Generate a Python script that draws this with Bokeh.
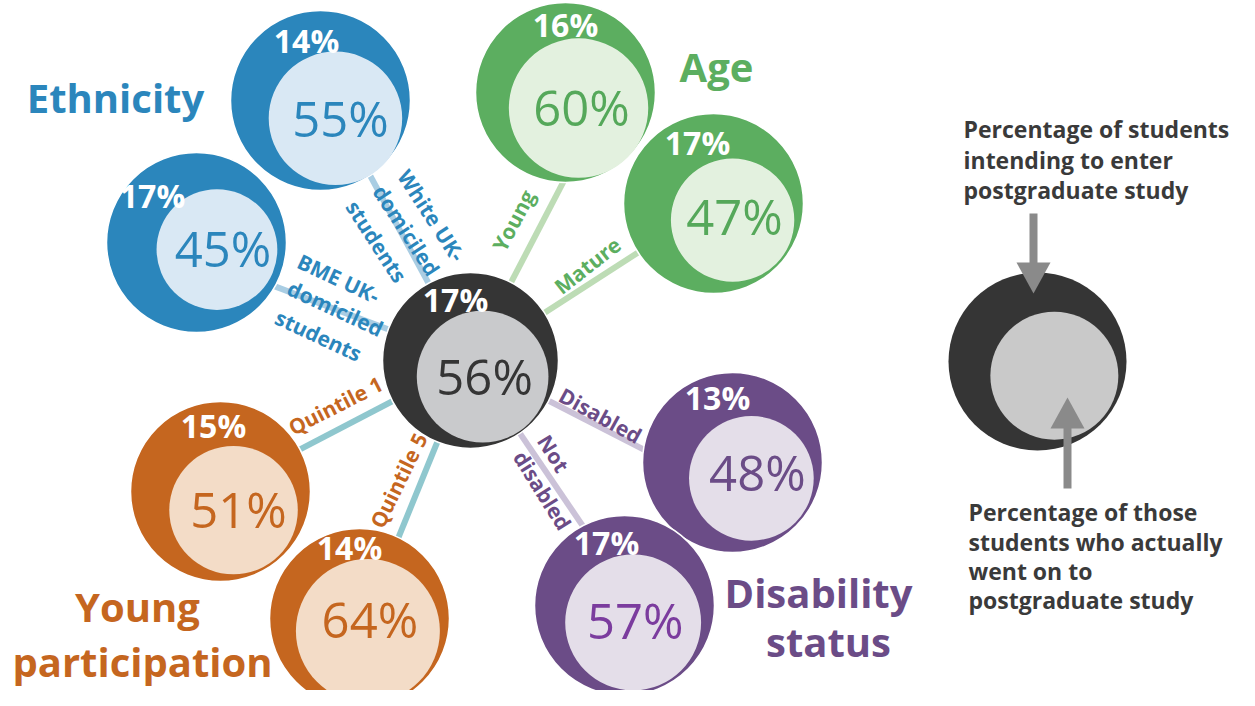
import math
from bokeh.plotting import figure
from bokeh.models import Range1d
from bokeh.core.properties import value
from bokeh.embed import file_html
from bokeh.resources import INLINE

# ---------------- data ----------------
subgroups = ["All students", "White UK-domiciled students", "BME UK-domiciled students",
             "Young", "Mature", "Quintile 1", "Quintile 5", "Disabled", "Not disabled"]
groups = ["All", "Ethnicity", "Ethnicity", "Age", "Age",
          "Young participation", "Young participation", "Disability status", "Disability status"]
intending_pct = [17, 14, 17, 16, 17, 15, 14, 13, 17]
went_on_pct = [56, 55, 45, 60, 47, 51, 64, 48, 57]
link_labels = [[], ["White UK-", "domiciled", "students"], ["BME UK-", "domiciled", "students"],
               ["Young"], ["Mature"], ["Quintile 1"], ["Quintile 5"], ["Disabled"], ["Not", "disabled"]]
group_names = ["Ethnicity", "Age", "Young participation", "Disability status"]
group_title_lines = [["Ethnicity"], ["Age"], ["Young", "participation"], ["Disability", "status"]]
legend_top = ["Percentage of students", "intending to enter", "postgraduate study"]
legend_bottom = ["Percentage of those", "students who actually", "went on to", "postgraduate study"]

# ---------------- styles ----------------
FONT = value("Open Sans")
palette = {  # dark ring, light inner, inner text, link line
    "All": ("#353535", "#c9cacc", "#353535", "#c9cacc"),
    "Ethnicity": ("#2b86bc", "#d9e8f4", "#2b86bc", "#a9cde3"),
    "Age": ("#5cae60", "#e3f1df", "#55a85a", "#bddcb5"),
    "Young participation": ("#c5661f", "#f3dcc7", "#c5661f", "#8fc7ce"),
    "Disability status": ("#6b4c87", "#e4dee9", "#6b4c87", "#cbc2d8"),
}
inner_text_override = {8: "#7b3c9e"}

# ---------------- layout (reference pixel space, y downwards) ----------------
REF_H = 706
FIG_W, FIG_H = 1239, 690


def Y(v):
    return REF_H - v


cx = [470, 320, 196, 565, 713, 220, 359, 732, 624]
cy = [360, 100, 242, 92, 203, 491, 618, 462, 605]
R = [88, 90, 90, 90, 90, 90, 90, 90, 90]
inner_ang = [53, 50, 19, 50, 41, 55, 56, 40, 63]
inner_gap = [2, 0, 8, 0, 3, 3, 3, 3, 3]
# visual centres of the "intending" labels, relative to the outer circle centre
out_lbl_dx = [-15, -14, -44, 0, -16, -7, -10, -15, -18]
out_lbl_dy = [-60, -59, -46, -67, -60, -65, -70, -64, -62]
# visual centres of the "went on" labels, relative to the inner circle centre
in_lbl_dx = [2, 5, 6, 3, 2, 5, 2, 6, 2]
in_lbl_dy = [1, 1, 0, 0, -3, 0, -10, -5, -1]
draw_order = [2, 1, 3, 4, 5, 6, 7, 8, 0]

link_end_x = [None, 375, 280, 562, 636, 303, 400, 645, 582]
link_end_y = [None, 185, 288, 183, 253, 447, 532, 450, 525]
link_lbl_pos = [[], [(431, 215), (406, 230), (376, 241)], [(338, 278), (335, 308), (318, 335)],
                [(513, 220)], [(587, 265)], [(335, 405)], [(398, 480)], [(600, 415)],
                [(553, 453), (542, 490)]]
link_lbl_ang = [0, -57, -25, 62, 38, 27, 64, -29, -58]

# title baselines
title_pos = [[(115, 113)], [(716, 82)], [(137, 622), (142, 677)], [(818, 608), (828, 657)]]

OUT_FS, IN_FS, LINK_FS, TITLE_FS, LEG_FS = 32, 49, 21, 40, 23
MID = 0.388  # central baseline above alphabetic baseline (em)
CAP = 0.357  # cap-height centre above alphabetic baseline (em)

p = figure(width=FIG_W, height=FIG_H,
           x_range=Range1d(0, FIG_W), y_range=Range1d(REF_H - FIG_H, REF_H),
           output_backend="svg", toolbar_location=None, min_border=0,
           x_axis_type=None, y_axis_type=None)
p.grid.visible = False
p.outline_line_color = None
p.background_fill_color = "white"
p.border_fill_color = "white"

# ---- link lines ----
for i in range(1, len(subgroups)):
    dx, dy = link_end_x[i] - cx[0], link_end_y[i] - cy[0]
    L = math.hypot(dx, dy)
    ex, ey = link_end_x[i] + dx / L * 25, link_end_y[i] + dy / L * 25
    p.line([cx[0], ex], [Y(cy[0]), Y(ey)], line_width=6, line_color=palette[groups[i]][3])

# ---- link labels ----
for i in range(1, len(subgroups)):
    col = palette[groups[i]][0]
    xs = [q[0] for q in link_lbl_pos[i]]
    ys = [Y(q[1]) for q in link_lbl_pos[i]]
    p.text(x=xs, y=ys, text=link_labels[i], angle=link_lbl_ang[i], angle_units="deg",
           text_font=FONT, text_font_style="bold", text_font_size=f"{LINK_FS}px",
           text_color=col, text_align="center", text_baseline="middle")

# ---- circles ----
for i in draw_order:
    dark, light, itxt, _ = palette[groups[i]]
    r_in = R[i] * math.sqrt(went_on_pct[i] / 100.0)
    d = R[i] - r_in - inner_gap[i]
    a = math.radians(inner_ang[i])
    ix, iy = cx[i] + d * math.cos(a), cy[i] + d * math.sin(a)
    p.circle(x=[cx[i]], y=[Y(cy[i])], radius=R[i], fill_color=dark, line_color="white", line_width=1.5)
    p.circle(x=[ix], y=[Y(iy)], radius=r_in, fill_color=light, line_color=None)
    p.text(x=[cx[i] + out_lbl_dx[i]], y=[Y(cy[i] + out_lbl_dy[i] - (MID - CAP) * OUT_FS)],
           text=[f"{intending_pct[i]}%"], text_font=FONT, text_font_style="bold",
           text_font_size=f"{OUT_FS}px",
           text_color="white", text_align="center", text_baseline="middle")
    p.text(x=[ix + in_lbl_dx[i]], y=[Y(iy + in_lbl_dy[i] - (MID - CAP) * IN_FS)],
           text=[f"{went_on_pct[i]}%"], text_font=FONT,
           text_font_size=f"{IN_FS}px",
           text_color=inner_text_override.get(i, itxt), text_align="center", text_baseline="middle")

# ---- group titles ----
for g, lines, pos in zip(group_names, group_title_lines, title_pos):
    p.text(x=[q[0] for q in pos], y=[Y(q[1] - MID * TITLE_FS) for q in pos], text=lines,
           text_font=FONT, text_font_style="bold", text_font_size=f"{TITLE_FS}px",
           text_color=palette[g][0], text_align="center", text_baseline="middle")

# ---- legend ----
LEG_CX, LEG_CY, LEG_R, LEG_r, LEG_ANG = 1037, 361, 89, 64, 40
LEG_DARK, LEG_LIGHT, ARROW_COL = "#353535", "#c9c9c9", "#8a8a8a"
p.circle(x=[LEG_CX], y=[Y(LEG_CY)], radius=LEG_R, fill_color=LEG_DARK, line_color=None)
ld = LEG_R - LEG_r - 3
lix = LEG_CX + ld * math.cos(math.radians(LEG_ANG))
liy = LEG_CY + ld * math.sin(math.radians(LEG_ANG))
p.circle(x=[lix], y=[Y(liy)], radius=LEG_r, fill_color=LEG_LIGHT, line_color=None)

# down arrow (to outer ring) and up arrow (to inner circle)
arrows = [(1033, 213, 293), (1067, 488, 397)]  # x, tail y, tip y
HEAD_L, HEAD_W = 31, 34
for ax, ty, tip in arrows:
    sgn = 1 if tip > ty else -1
    base = tip - sgn * HEAD_L
    p.line([ax, ax], [Y(ty), Y(base + sgn * 2)], line_width=8, line_color=ARROW_COL)
    p.patch([ax - HEAD_W / 2, ax + HEAD_W / 2, ax], [Y(base), Y(base), Y(tip)],
            fill_color=ARROW_COL, line_color=None)

p.text(x=[963] * 3, y=[Y(v) for v in (128, 159, 189)], text=legend_top,
       text_font=FONT, text_font_style="bold", text_font_size=f"{LEG_FS}px",
       text_color="#3a3a3a", text_align="left", text_baseline="middle")
p.text(x=[968] * 4, y=[Y(v) for v in (511, 541, 570, 599)], text=legend_bottom,
       text_font=FONT, text_font_style="bold", text_font_size=f"{LEG_FS}px",
       text_color="#3a3a3a", text_align="left", text_baseline="middle")

open("out.html", "w").write(file_html(p, INLINE))
